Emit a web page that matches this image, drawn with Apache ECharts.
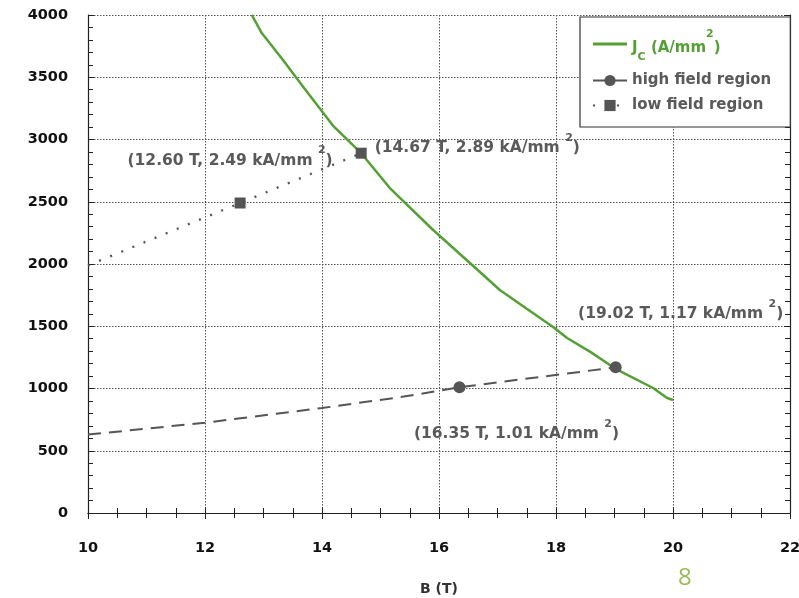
<!DOCTYPE html>
<html>
<head>
<meta charset="utf-8">
<script src="https://cdn.jsdelivr.net/npm/echarts@6/dist/echarts.min.js"></script>
<style>html,body{margin:0;padding:0;background:#fff;}#c{width:799px;height:598px;}</style>
</head>
<body>
<div id="c"></div>
<script>
// ---- data ----
const jcB = [12.80, 12.97, 13.33, 13.7, 14.19, 14.67, 15.16, 15.9, 16.5, 17.04, 17.5, 17.95, 18.19, 18.6, 19.01, 19.66, 19.9, 20.0];
const jcJ = [4000, 3855, 3640, 3410, 3110, 2890, 2610, 2273, 2020, 1791, 1640, 1494, 1406, 1290, 1160, 1004, 924, 908];

const highB = [10, 12, 14, 15.4, 16.35, 19.02];
const highJ = [630, 725, 843, 935, 1010, 1170];
const highMarked = [false, false, false, false, true, true];

const lowB = [10, 12.60, 14.67];
const lowJ = [1988, 2490, 2890];
const lowMarked = [false, true, true];

const xTicks = [10, 12, 14, 16, 18, 20, 22];
const yTicks = [0, 500, 1000, 1500, 2000, 2500, 3000, 3500, 4000];

const annotations = {
  '12.6': '(12.60 T, 2.49 kA/mm ',
  '14.67': '(14.67 T, 2.89 kA/mm ',
  '16.35': '(16.35 T, 1.01 kA/mm ',
  '19.02': '(19.02 T, 1.17 kA/mm '
};

const GREEN = '#55a035';
const GREY = '#555555';
const TXT = '#5a5a5a';
const FONT = 'DejaVu Sans';

const richLbl = {
  a: {fontFamily: FONT, fontWeight: 'bold', fontSize: 15.5, color: TXT, lineHeight: 24, verticalAlign: 'bottom'},
  s: {fontFamily: FONT, fontWeight: 'bold', fontSize: 11, color: TXT, lineHeight: 24, verticalAlign: 'top'}
};
function lblText(b) {
  return '{a|' + annotations[String(b)] + '}{s|2}{a|)}';
}
const lblPos = {
  '12.6': {position: 'top', offset: [-10, -24]},
  '14.67': {position: 'right', offset: [3, -9]},
  '16.35': {position: 'bottom', offset: [57, 20]},
  '19.02': {position: 'top', offset: [65, -34]}
};

function mkData(bs, js, marked) {
  return bs.map((b, i) => {
    const item = {value: [b, js[i]]};
    if (!marked[i]) {
      item.symbol = 'none';
    } else {
      const p = lblPos[String(b)];
      item.label = {show: true, position: p.position, offset: p.offset, formatter: () => lblText(b), rich: richLbl};
    }
    return item;
  });
}

const chart = echarts.init(document.getElementById('c'), null, {renderer: 'canvas'});

const axisLabelStyle = {fontFamily: FONT, fontWeight: 'bold', fontSize: 14.5, color: '#111'};

chart.setOption({
  animation: false,
  backgroundColor: '#fff',
  grid: {left: 88, top: 15, right: 9, bottom: 85, containLabel: false, outerBoundsMode: 'none'},
  xAxis: [{
    type: 'value', min: 10, max: 22, interval: 2,
    name: 'B (T)', nameLocation: 'middle', nameGap: 69,
    nameTextStyle: {fontFamily: FONT, fontWeight: 'bold', fontSize: 14, color: '#333'},
    axisLine: {show: true, lineStyle: {color: '#222', width: 1.2}},
    axisTick: {show: true, inside: true, length: 6, lineStyle: {color: '#222'}},
    minorTick: {show: true, splitNumber: 4, length: 5, lineStyle: {color: '#222'}},
    axisLabel: Object.assign({margin: 28, formatter: v => xTicks.includes(v) ? String(v) : ''}, axisLabelStyle),
    splitLine: {show: true, lineStyle: {color: '#555', type: [1.5, 1.5], width: 1}}
  }, {
    type: 'value', min: 10, max: 22, interval: 2, position: 'top',
    axisLine: {show: true, lineStyle: {color: '#222', width: 1.2}},
    axisTick: {show: true, inside: true, length: 6, lineStyle: {color: '#222'}},
    minorTick: {show: true, splitNumber: 4, length: 5, lineStyle: {color: '#222'}},
    axisLabel: {show: false}, splitLine: {show: false}
  }],
  yAxis: [{
    type: 'value', min: 0, max: 4000, interval: 500,
    axisLine: {show: true, lineStyle: {color: '#222', width: 1.2}},
    axisTick: {show: true, inside: true, length: 6, lineStyle: {color: '#222'}},
    minorTick: {show: true, splitNumber: 5, length: 5, lineStyle: {color: '#222'}},
    axisLabel: Object.assign({margin: 20, formatter: v => yTicks.includes(v) ? String(v) : ''}, axisLabelStyle),
    splitLine: {show: true, lineStyle: {color: '#555', type: [1.5, 1.5], width: 1}}
  }, {
    type: 'value', min: 0, max: 4000, interval: 500, position: 'right',
    axisLine: {show: true, lineStyle: {color: '#222', width: 1.2}},
    axisTick: {show: true, inside: true, length: 6, lineStyle: {color: '#222'}},
    minorTick: {show: true, splitNumber: 5, length: 5, lineStyle: {color: '#222'}},
    axisLabel: {show: false}, splitLine: {show: false}
  }],
  legend: {
    orient: 'vertical', left: 580, top: 17,
    padding: [8, 19, 14, 12], itemGap: 10, itemWidth: 34, itemHeight: 14,
    borderColor: '#333', borderWidth: 1.2, backgroundColor: '#fff',
    textStyle: {fontFamily: FONT, fontWeight: 'bold', fontSize: 15, color: TXT,
      rich: {
        m: {fontFamily: FONT, fontWeight: 'bold', fontSize: 15, color: GREEN, lineHeight: 38, verticalAlign: 'middle', padding: [8, 0, 0, 0]},
        sub: {fontFamily: FONT, fontWeight: 'bold', fontSize: 11, color: GREEN, lineHeight: 38, verticalAlign: 'bottom'},
        sup: {fontFamily: FONT, fontWeight: 'bold', fontSize: 11, color: GREEN, lineHeight: 38, verticalAlign: 'top', padding: [4, 0, 0, 0]}
      }},
    formatter: name => name === 'Jc' ? '{m|J}{sub|C}{m| (A/mm}{sup|2}{m|)}' : name,
    data: [
      {name: 'Jc', icon: 'path://M0,0h34v3h-34z', itemStyle: {color: GREEN}},
      'high field region', 'low field region']
  },
  series: [{
    name: 'Jc', type: 'line', showSymbol: false, symbol: 'none',
    data: jcB.map((b, i) => [b, jcJ[i]]),
    lineStyle: {color: GREEN, width: 2.5}, itemStyle: {color: GREEN}, z: 3
  }, {
    name: 'high field region', type: 'line', symbol: 'circle', symbolSize: 12,
    data: mkData(highB, highJ, highMarked),
    lineStyle: {color: GREY, width: 2, type: [13, 8]}, itemStyle: {color: GREY}, z: 4
  }, {
    name: 'low field region', type: 'line', symbol: 'rect', symbolSize: 11,
    data: mkData(lowB, lowJ, lowMarked),
    lineStyle: {color: GREY, width: 2.3, type: [2, 10]}, itemStyle: {color: GREY}, z: 4
  }],
  graphic: [{
    type: 'text', left: 678, top: 566,
    style: {text: '8', fontFamily: 'Open Sans', fontSize: 24, fill: '#9bbb59'}
  }]
});
</script>
</body>
</html>
